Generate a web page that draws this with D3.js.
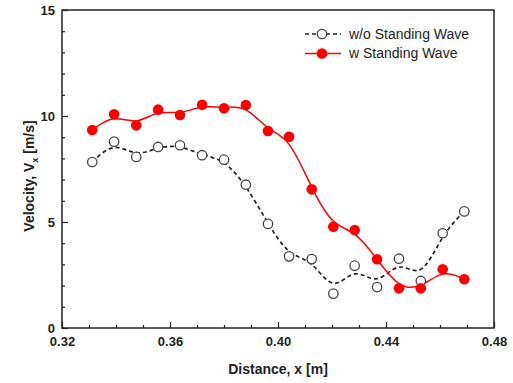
<!DOCTYPE html>
<html>
<head>
<meta charset="utf-8">
<script src="https://cdn.jsdelivr.net/npm/d3@7"></script>
<style>
  body { margin: 0; background: #fff; }
  svg { font-family: "Liberation Sans", Arial, sans-serif; }
</style>
</head>
<body>
<div id="chart"></div>
<script>
// distance along the duct [m]
var distance = [0.3312, 0.3393, 0.3475, 0.3556, 0.3637, 0.3719, 0.3800, 0.3881, 0.3963,
    0.4041, 0.4125, 0.4205, 0.4284, 0.4367, 0.4448, 0.4529, 0.4610, 0.4690];

// velocity Vx [m/s]
var withoutWave = [7.83, 8.79, 8.07, 8.54, 8.62, 8.15, 7.94, 6.76, 4.91,
    3.38, 3.25, 1.62, 2.94, 1.93, 3.27, 2.22, 4.47, 5.50];
var withWave = [9.34, 10.08, 9.56, 10.30, 10.05, 10.53, 10.36, 10.52, 9.29,
    9.02, 6.54, 4.78, 4.62, 3.24, 1.87, 1.87, 2.77, 2.30];

var xTicks = [0.32, 0.36, 0.40, 0.44, 0.48];
var yTicks = [0, 5, 10, 15];
var seriesNames = ['w/o Standing Wave', 'w Standing Wave'];

var width = 513, height = 383;
var margin = {left: 62, top: 10, right: 19, bottom: 55};

var svg = d3.select('#chart').append('svg')
    .attr('width', width)
    .attr('height', height);

var x = d3.scaleLinear().domain([0.32, 0.48]).range([margin.left, width - margin.right]);
var y = d3.scaleLinear().domain([0, 15]).range([height - margin.bottom, margin.top]);

// minor + major ticks pointing inward
var xAxis = d3.axisBottom(x).tickValues(d3.range(0.33, 0.48, 0.01).filter(function(d) {
        return xTicks.every(function(t) { return Math.abs(t - d) > 1e-6; });
    })).tickSize(-3).tickFormat('');
svg.append('g').attr('transform', 'translate(0,' + y(0) + ')').call(xAxis);

svg.append('g').attr('transform', 'translate(0,' + y(0) + ')')
    .call(d3.axisBottom(x).tickValues(xTicks).tickSize(-6).tickPadding(9).tickFormat(d3.format('.2f')));

svg.append('g').attr('transform', 'translate(' + x(0.32) + ',0)')
    .call(d3.axisLeft(y).tickValues(d3.range(1, 15).filter(function(d) { return d % 5; }))
        .tickSize(-3).tickFormat(''));

svg.append('g').attr('transform', 'translate(' + x(0.32) + ',0)')
    .call(d3.axisLeft(y).tickValues(yTicks).tickSize(-6).tickPadding(7));

svg.selectAll('.domain').remove();
svg.selectAll('.tick line').attr('stroke', '#222').attr('stroke-width', 1.2);
svg.selectAll('.tick text')
    .attr('fill', '#222')
    .style('font-size', '13px')
    .style('font-weight', 'bold');

// frame
svg.append('rect')
    .attr('x', x(0.32))
    .attr('y', y(15))
    .attr('width', x(0.48) - x(0.32))
    .attr('height', y(0) - y(15))
    .attr('fill', 'none')
    .attr('stroke', '#222')
    .attr('stroke-width', 1.5);

// axis titles
svg.append('text')
    .attr('x', 278)
    .attr('y', 374)
    .attr('text-anchor', 'middle')
    .attr('fill', '#222')
    .style('font-size', '14px')
    .style('font-weight', 'bold')
    .text('Distance, x [m]');

var yTitle = svg.append('text')
    .attr('transform', 'translate(34,176) rotate(-90)')
    .attr('text-anchor', 'middle')
    .attr('fill', '#222')
    .style('font-size', '14px')
    .style('font-weight', 'bold');
yTitle.append('tspan').text('Velocity, V');
yTitle.append('tspan').attr('dy', 4).style('font-size', '9px').text('x');
yTitle.append('tspan').attr('dy', -4).text(' [m/s]');

var line = d3.line()
    .x(function(d, i) { return x(distance[i]); })
    .y(function(d) { return y(d); })
    .curve(d3.curveBasis);

svg.append('path')
    .datum(withoutWave)
    .attr('d', line)
    .attr('fill', 'none')
    .attr('stroke', '#222')
    .attr('stroke-width', 1.7)
    .attr('stroke-dasharray', '4,3');

svg.append('path')
    .datum(withWave)
    .attr('d', line)
    .attr('fill', 'none')
    .attr('stroke', '#ff0000')
    .attr('stroke-width', 1.5);

svg.append('g').selectAll('circle')
    .data(withoutWave)
    .enter()
    .append('circle')
    .attr('cx', function(d, i) { return x(distance[i]); })
    .attr('cy', function(d) { return y(d); })
    .attr('r', 4.7)
    .attr('fill', '#fff')
    .attr('stroke', '#444')
    .attr('stroke-width', 1.3);

svg.append('g').selectAll('circle')
    .data(withWave)
    .enter()
    .append('circle')
    .attr('cx', function(d, i) { return x(distance[i]); })
    .attr('cy', function(d) { return y(d); })
    .attr('r', 5.3)
    .attr('fill', '#ff0000');

// legend
var legend = svg.append('g');
var rows = [34, 53.5];

legend.append('line')
    .attr('x1', 305).attr('x2', 341).attr('y1', rows[0]).attr('y2', rows[0])
    .attr('stroke', '#222').attr('stroke-width', 1.7).attr('stroke-dasharray', '4,3');
legend.append('circle')
    .attr('cx', 322).attr('cy', rows[0]).attr('r', 4.7)
    .attr('fill', '#fff').attr('stroke', '#444').attr('stroke-width', 1.3);

legend.append('line')
    .attr('x1', 305).attr('x2', 341).attr('y1', rows[1]).attr('y2', rows[1])
    .attr('stroke', '#ff0000').attr('stroke-width', 1.5);
legend.append('circle')
    .attr('cx', 322).attr('cy', rows[1]).attr('r', 5.3)
    .attr('fill', '#ff0000');

legend.selectAll('text')
    .data(seriesNames)
    .enter()
    .append('text')
    .attr('x', 349)
    .attr('y', function(d, i) { return rows[i]; })
    .attr('dy', '0.35em')
    .attr('fill', '#222')
    .style('font-size', '14px')
    .text(function(d) { return d; });
</script>
</body>
</html>
